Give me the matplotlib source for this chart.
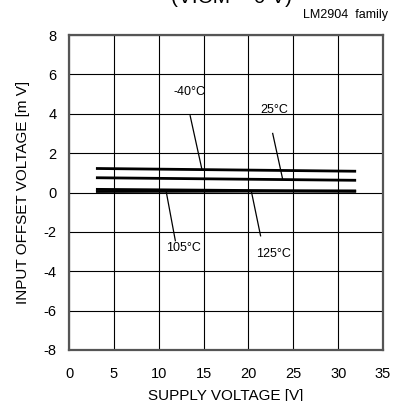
import matplotlib.pyplot as plt

plt.rcParams['font.family'] = ['Liberation Sans', 'DejaVu Sans']
plt.rcParams['axes.unicode_minus'] = False

# supply voltage sweep [V]
vcc = [3, 32]
# input offset voltage [mV] per temperature
vio_m40 = [1.22, 1.08]
vio_25 = [0.75, 0.62]
vio_105 = [0.16, 0.06]
vio_125 = [0.05, 0.08]

labels = ["-40°C", "25°C", "105°C", "125°C"]
# label text position and leader line (start, end)
label_pos = [(13.4, 5.1), (22.9, 4.2), (12.8, -2.8), (22.8, -3.1)]
leader_x = [(13.5, 14.8), (22.7, 23.8), (11.85, 10.85), (21.35, 20.35)]
leader_y = [(3.9, 1.2), (3.0, 0.7), (-2.45, 0.0), (-2.2, 0.0)]

xticks = [0, 5, 10, 15, 20, 25, 30, 35]
yticks = [-8, -6, -4, -2, 0, 2, 4, 6, 8]

fig = plt.figure(figsize=(3.99, 4.01), dpi=100)
ax = fig.add_axes([0.173, 0.1272, 0.787, 0.7855])

for v in [vio_m40, vio_25, vio_105, vio_125]:
    ax.plot(vcc, v, color="black", linewidth=2.0, solid_capstyle="butt")

for lab, (tx, ty), lx, ly in zip(labels, label_pos, leader_x, leader_y):
    ax.plot(lx, ly, color="black", linewidth=0.9)
    ax.text(tx, ty, lab, ha="center", va="center", fontsize=9)

ax.set_xlim(0, 35)
ax.set_ylim(-8, 8)
ax.set_xticks(xticks)
ax.set_yticks(yticks)
ax.grid(True, color="black", linewidth=0.8)
ax.set_axisbelow(True)
ax.tick_params(length=0, labelsize=10.5)
ax.tick_params(axis="x", pad=12)
ax.tick_params(axis="y", pad=9)
for s in ax.spines.values():
    s.set_color("#555555")
    s.set_linewidth(1.6)

ax.set_xlabel("SUPPLY VOLTAGE [V]", fontsize=11, labelpad=6)
ax.set_ylabel("INPUT OFFSET VOLTAGE [m V]", fontsize=11, labelpad=10)

fig.text(0.9724, 0.9626, "LM2904  family", ha="right", va="center", fontsize=9)
fig.text(0.58, 0.993, "(VICM = 0 V)", ha="center", va="baseline", fontsize=15)

fig.savefig("out.png", dpi=100)
